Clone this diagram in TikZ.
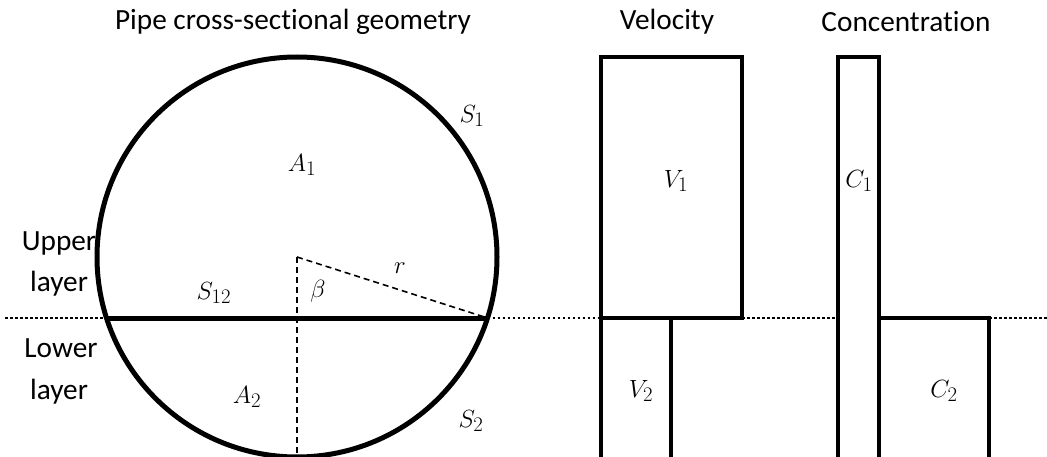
\documentclass[tikz,border=0pt]{standalone}
\usepackage{fontspec}
\setmainfont{Carlito}[Ligatures=NoCommon]
\begin{document}
\begin{tikzpicture}[x=1pt,y=-1pt,
  thick line/.style={line width=4.2pt},
  dotline/.style={line width=2.5pt, dash pattern=on 2.5pt off 2.5pt},
  dashline/.style={line width=1.6pt, dash pattern=on 6pt off 4pt},
  txt/.style={font=\fontsize{29.3}{32}\selectfont, inner sep=0pt},
  lbl/.style={font=\fontsize{32}{35}\selectfont, inner sep=0pt}]
\useasboundingbox (0,0) rectangle (1047,457);
\clip (0,0) rectangle (1047,457);
% geometry
\coordinate (O) at (297,257);
\coordinate (L) at (106.5,318);
\coordinate (R) at (487.5,318);
\coordinate (B) at (297,462);
\coordinate (d0) at (5,318);
\coordinate (d1) at (601,318);
\coordinate (d2) at (742,318);
\coordinate (d3) at (838,318);
\coordinate (d4) at (989,318);
\coordinate (d5) at (1047,318);
% dotted interface line
\draw[dotline] (d0) -- (L);
\draw[dotline] (R) -- (d1);
\draw[dotline] (d2) -- (d3);
\draw[dotline] (d4) -- (d5);
% pipe
\draw[line width=5pt] (O) circle[radius=200];
\draw[line width=5pt] (L) -- (R);
\draw[dashline] (O) -- (B);
\draw[dashline] (O) -- (R);
% velocity profile
\draw[thick line, line join=miter] (601,318) rectangle (742,57);
\draw[thick line, line join=miter] (601,462) -- (601,318) -- (671,318) -- (671,462);
% concentration profile
\draw[thick line, line join=miter] (838,462) -- (838,57) -- (879,57) -- (879,462);
\draw[thick line, line join=miter] (879,318) -- (989,318) -- (989,462);
% titles
\node[txt] (t1) at (293,22) {Pipe cross-sectional geometry};
\node[txt] (t2) at (667,22) {Velocity};
\node[txt] (t3) at (906,22) {Concentration};
% layer labels
\node[txt] (up1) at (59,243) {Upper};
\node[txt] (up2) at (59,284) {layer};
\node[txt] (lo1) at (61,348) {Lower};
\node[txt] (lo2) at (59,392) {layer};
% math labels
\node[lbl] (A1) at (302,165) {$A_1$};
\node[lbl] (S1) at (472,116) {$S_1$};
\node[lbl] (S12) at (214,293) {$S_{12}$};
\node[lbl] (beta) at (318,291) {$\beta$};
\node[lbl] (r) at (400,268) {$r$};
\node[lbl] (A2) at (247,397) {$A_2$};
\node[lbl] (S2) at (471,421) {$S_2$};
\node[lbl] (V1) at (676,181) {$V_1$};
\node[lbl] (V2) at (641,391) {$V_2$};
\node[lbl] (C1) at (859,181) {$C_1$};
\node[lbl] (C2) at (944,391) {$C_2$};
\end{tikzpicture}
\end{document}
